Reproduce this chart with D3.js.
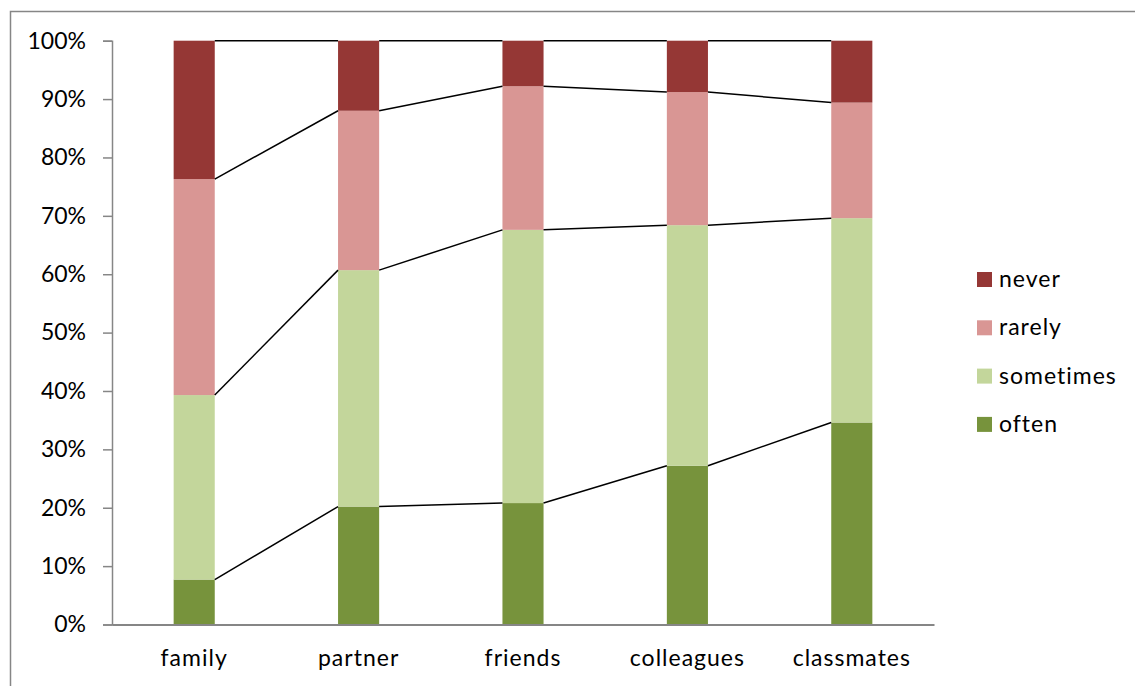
<!DOCTYPE html>
<html>
<head>
<meta charset="utf-8">
<script src="https://cdn.jsdelivr.net/npm/d3@7"></script>
<style>
  html, body { margin: 0; padding: 0; background: #fff; }
  svg { display: block; }
  text { font-family: Lato, "Open Sans", sans-serif; fill: #000; }
</style>
</head>
<body>
<svg id="chart" width="1135" height="686"></svg>
<script>
// Groups along the x axis
const categories = ["family", "partner", "friends", "colleagues", "classmates"];
// Stack order, bottom to top
const seriesNames = ["often", "sometimes", "rarely", "never"];
// Shares in percent per group
const often     = [7.7, 20.2, 20.8, 27.2, 34.6];
const sometimes = [31.6, 40.5, 46.8, 41.2, 35.0];
const rarely    = [37.0, 27.3, 24.6, 22.8, 19.8];
const never     = [23.7, 12.0, 7.8, 8.8, 10.6];
const yTicks = [0, 10, 20, 30, 40, 50, 60, 70, 80, 90, 100];
const colors = { often: "#77933C", sometimes: "#C3D69B", rarely: "#D99694", never: "#953735" };

const values = { often, sometimes, rarely, never };
const rows = categories.map((c, i) => {
  const r = { category: c };
  let total = 0;
  seriesNames.forEach(s => total += values[s][i]);
  seriesNames.forEach(s => r[s] = values[s][i] / total * 100);
  return r;
});

const svg = d3.select("#chart");
const plotLeft = 112, plotRight = 934, plotTop = 40.7, plotBottom = 624.5;

// Outer frame (top and left edges visible)
svg.append("path")
  .attr("d", `M10.5,686V11.5H1135`)
  .attr("fill", "none").attr("stroke", "#868686").attr("stroke-width", 1.5);

const x = d3.scaleBand().domain(categories).range([plotLeft, plotRight]).paddingInner(0.75).paddingOuter(0.375);
const y = d3.scaleLinear().domain([0, 100]).range([plotBottom, plotTop]);

const stack = d3.stack().keys(seriesNames)(rows);

// Bars
svg.append("g").selectAll("g").data(stack).join("g")
  .attr("fill", d => colors[d.key])
  .selectAll("rect").data(d => d).join("rect")
  .attr("x", d => x(d.data.category))
  .attr("width", x.bandwidth())
  .attr("y", d => y(d[1]))
  .attr("height", d => y(d[0]) - y(d[1]));

// Series lines joining the segment tops of neighbouring bars
const lineG = svg.append("g").attr("fill", "none").attr("stroke", "#000").attr("stroke-width", 1.5);
stack.forEach(layer => {
  for (let i = 0; i < layer.length - 1; i++) {
    const a = layer[i], b = layer[i + 1];
    lineG.append("line")
      .attr("x1", x(a.data.category) + x.bandwidth())
      .attr("y1", y(a[1]))
      .attr("x2", x(b.data.category))
      .attr("y2", y(b[1]));
  }
});

// Y axis
const yAxis = d3.axisLeft(y).tickValues(yTicks).tickFormat(d => d + "%").tickSize(9).tickPadding(17);
const yg = svg.append("g").attr("transform", `translate(${plotLeft},0)`).call(yAxis);
yg.select(".domain").attr("stroke", "#868686").attr("stroke-width", 1.5);
yg.selectAll(".tick line").attr("stroke", "#868686").attr("stroke-width", 1.5);
yg.selectAll(".tick text").style("font-size", "23px").attr("fill", "#000");

// X axis
const xAxis = d3.axisBottom(x).tickSize(0).tickPadding(25);
const xg = svg.append("g").attr("transform", `translate(0,${plotBottom})`).call(xAxis);
xg.select(".domain").attr("stroke", "#868686").attr("stroke-width", 2);
xg.selectAll(".tick text").style("font-size", "23px").style("letter-spacing", "1px").attr("fill", "#000");

// Legend, top entry is the top of the stack
const legendNames = seriesNames.slice().reverse();
const lg = svg.append("g").selectAll("g").data(legendNames).join("g")
  .attr("transform", (d, i) => `translate(977,${272 + i * 48.3})`);
lg.append("rect").attr("width", 15).attr("height", 15).attr("fill", d => colors[d]);
lg.append("text").attr("x", 22).attr("y", 15).style("font-size", "23px").style("letter-spacing", "1px").text(d => d);
</script>
</body>
</html>
